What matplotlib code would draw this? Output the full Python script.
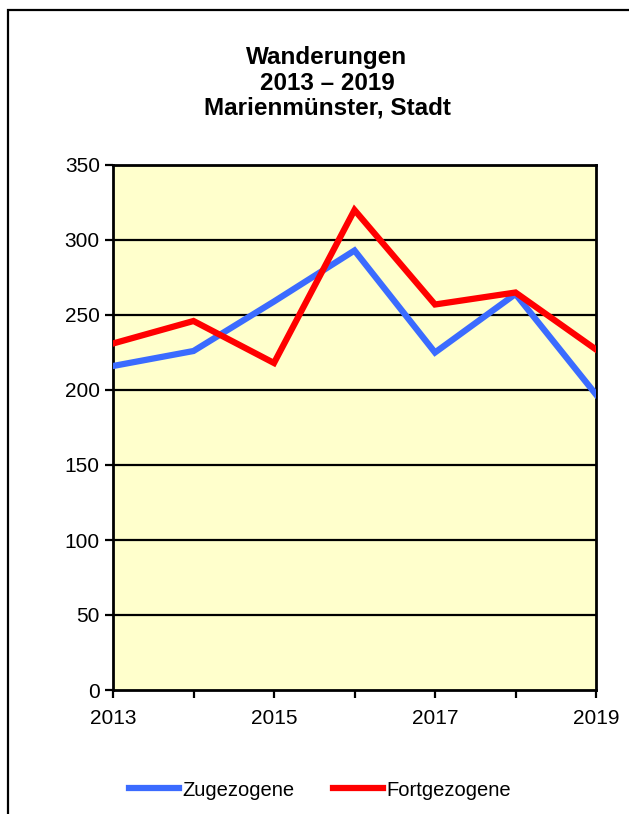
import matplotlib
matplotlib.use("Agg")
import matplotlib.pyplot as plt
from matplotlib.patches import Rectangle

plt.rcParams["font.family"] = ["Liberation Sans", "DejaVu Sans"]

years = [2013, 2014, 2015, 2016, 2017, 2018, 2019]
zugezogene = [216, 226, 259, 293, 225, 264, 197]
fortgezogene = [231, 246, 218, 320, 257, 265, 227]
tick_years = [2013, 2015, 2017, 2019]
y_ticks = [0, 50, 100, 150, 200, 250, 300, 350]

W, H = 629, 814
fig = plt.figure(figsize=(W / 100, H / 100), dpi=100)

# outer frame (cut off at right and bottom in the reference)
fig.patches.append(Rectangle((8 / W, -0.1), 1.2, 1.1 - 10 / H,
                             transform=fig.transFigure, fill=False,
                             edgecolor="black", linewidth=1.6))

fig.text(327 / W, 1 - 83 / H, "Wanderungen\n2013 – 2019\nMarienmünster, Stadt",
         ha="center", va="center", fontsize=17.5, fontweight="bold",
         linespacing=1.12)

ax = fig.add_axes([113 / W, 1 - 690 / H, (596 - 113) / W, (690 - 165) / H])
ax.set_facecolor("#FFFFCC")
ax.set_xlim(years[0], years[-1])
ax.set_ylim(0, 350)

for v in y_ticks[1:]:
    ax.axhline(v, color="black", linewidth=1.6, zorder=1)

ax.plot(years, zugezogene, color="#3B6BFF", linewidth=4.5,
        label="Zugezogene", zorder=3, solid_joinstyle="miter")
ax.plot(years, fortgezogene, color="#FF0000", linewidth=4.5,
        label="Fortgezogene", zorder=3, solid_joinstyle="miter")

ax.set_yticks(y_ticks)
ax.set_xticks(years, minor=True)
ax.set_xticks(tick_years)
ax.set_xticklabels([str(y) for y in tick_years])
ax.tick_params(axis="both", which="both", direction="out", length=6,
               width=1.6, labelsize=15, colors="black")
ax.tick_params(axis="x", pad=8)
for s in ax.spines.values():
    s.set_linewidth(2)
    s.set_color("black")

fig.legend(loc="center", bbox_to_anchor=(320 / W, 1 - 790 / H), ncol=2,
           frameon=False, fontsize=14.5, handlelength=2.5, handletextpad=0.15,
           columnspacing=1.9)

fig.savefig("out.png", dpi=100)
